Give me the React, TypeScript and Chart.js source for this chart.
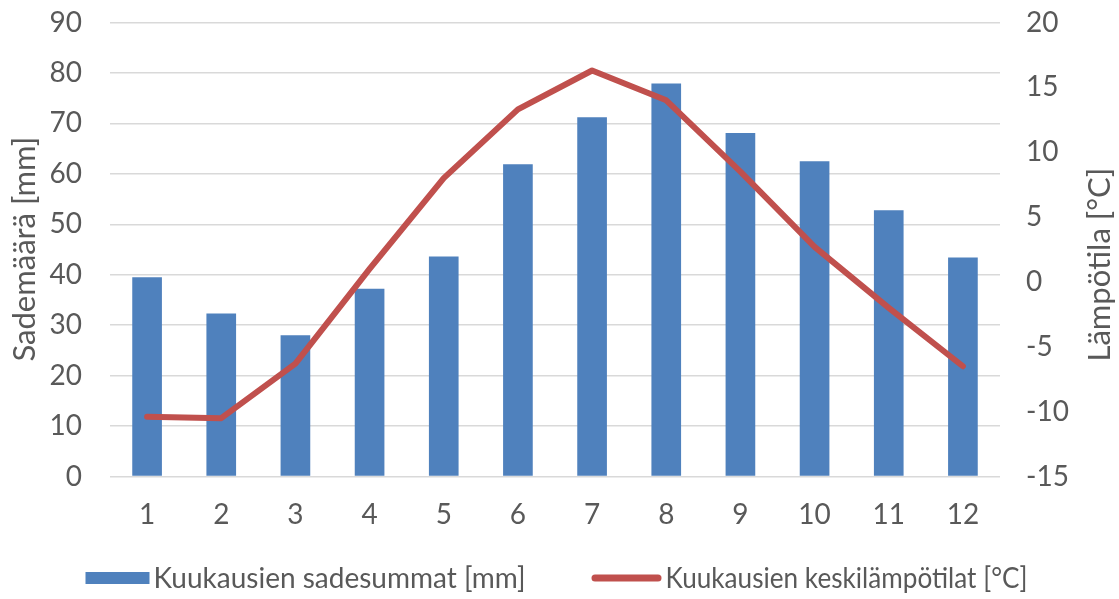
import React, { useEffect, useRef } from 'react';
import { Chart, registerables } from 'chart.js';

Chart.register(...registerables);

const months = ['1', '2', '3', '4', '5', '6', '7', '8', '9', '10', '11', '12'];
const precipitation = [39.5, 32.3, 28.0, 37.2, 43.6, 61.9, 71.2, 77.9, 68.1, 62.5, 52.8, 43.4];
const temperature = [-10.4, -10.5, -6.3, 1.0, 8.0, 13.3, 16.3, 14.0, 8.5, 2.7, -2.0, -6.5];

const precipLabel = 'Kuukausien sadesummat [mm]';
const tempLabel = 'Kuukausien keskilämpötilat [°C]';
const leftTitle = 'Sademäärä [mm]';
const rightTitle = 'Lämpötila [°C]';

const leftMin = 0;
const leftMax = 90;
const leftStep = 10;
const rightMin = -15;
const rightMax = 20;
const rightStep = 5;

const BAR_COLOR = '#4F81BD';
const LINE_COLOR = '#C0504D';
const TEXT_COLOR = '#595959';
const GRID_COLOR = '#D9D9D9';
const FONT = 'Lato, "Open Sans", sans-serif';
const TICK_SIZE = 28;
const TITLE_SIZE = 31;
const LEGEND_SIZE = 28;
const TRANSPARENT = 'rgba(0,0,0,0)';

const titlesPlugin = {
  id: 'axisTitles',
  afterDraw(chart: any) {
    const { ctx, chartArea } = chart;
    const yL = chart.scales.y;
    const yR = chart.scales.y1;
    ctx.save();
    ctx.fillStyle = TEXT_COLOR;
    ctx.font = `${TITLE_SIZE}px ${FONT}`;
    ctx.textAlign = 'left';
    ctx.textBaseline = 'middle';
    const baseY = chartArea.bottom - 115;
    ctx.save();
    ctx.translate(yL.left + 25, baseY);
    ctx.rotate(-Math.PI / 2);
    ctx.fillText(leftTitle, 0, 0);
    ctx.restore();
    ctx.save();
    ctx.translate(yR.right - 19, baseY);
    ctx.rotate(-Math.PI / 2);
    ctx.fillText(rightTitle, 0, 0, 205);
    ctx.restore();
    ctx.restore();
  },
};

const legendPlugin = {
  id: 'customLegend',
  afterDraw(chart: any) {
    const { ctx, width, height } = chart;
    ctx.save();
    ctx.font = `${LEGEND_SIZE}px ${FONT}`;
    ctx.textBaseline = 'middle';
    ctx.textAlign = 'left';
    const markerW1 = 64;
    const markerW2 = 70;
    const markGap = 4;
    const itemGap = 62;
    const w1 = 376;
    const w2 = 362;
    const total = markerW1 + markGap + w1 + itemGap + markerW2 + markGap + w2;
    let x = width / 2 - 3 - total / 2;
    const cy = height - 21;
    ctx.fillStyle = BAR_COLOR;
    ctx.fillRect(x, cy - 6, markerW1, 12);
    x += markerW1 + markGap;
    ctx.fillStyle = TEXT_COLOR;
    ctx.fillText(precipLabel, x, cy + 1, w1);
    x += w1 + itemGap;
    ctx.strokeStyle = LINE_COLOR;
    ctx.lineWidth = 7;
    ctx.lineCap = 'round';
    ctx.beginPath();
    ctx.moveTo(x + 3.5, cy);
    ctx.lineTo(x + markerW2 - 3.5, cy);
    ctx.stroke();
    x += markerW2 + markGap;
    ctx.fillStyle = TEXT_COLOR;
    ctx.fillText(tempLabel, x, cy + 1, w2);
    ctx.restore();
  },
};

export default function App() {
  const ref = useRef<HTMLCanvasElement | null>(null);

  useEffect(() => {
    document.body.style.margin = '0';
    const canvas = ref.current;
    if (!canvas) return;
    const chart = new Chart(canvas, {
      type: 'bar',
      data: {
        labels: months,
        datasets: [
          {
            type: 'bar',
            label: precipLabel,
            data: precipitation,
            backgroundColor: BAR_COLOR,
            borderWidth: 0,
            barPercentage: 0.4,
            categoryPercentage: 1,
            yAxisID: 'y',
            order: 2,
          },
          {
            type: 'line',
            label: tempLabel,
            data: temperature,
            borderColor: LINE_COLOR,
            backgroundColor: LINE_COLOR,
            borderWidth: 6,
            pointRadius: 0,
            tension: 0,
            borderCapStyle: 'round',
            borderJoinStyle: 'round',
            yAxisID: 'y1',
            order: 1,
          },
        ] as any,
      },
      options: {
        responsive: false,
        animation: false,
        maintainAspectRatio: false,
        layout: { padding: { top: 22.5, left: 0, right: 0, bottom: 62.5 } },
        plugins: {
          tooltip: { enabled: false },
          legend: { display: false },
        },
        scales: {
          x: {
            grid: { display: false, drawTicks: false },
            border: { display: false },
            ticks: {
              color: TEXT_COLOR,
              font: { family: FONT, size: TICK_SIZE },
              padding: 21.5,
              maxRotation: 0,
              autoSkip: false,
            },
            afterFit: (s: any) => {
              s.height = 60;
            },
          },
          y: {
            position: 'left',
            min: leftMin,
            max: leftMax,
            grid: {
              color: GRID_COLOR,
              lineWidth: 1.5,
              drawTicks: true,
              tickLength: 23,
              tickColor: TRANSPARENT,
            },
            border: { display: false },
            ticks: {
              stepSize: leftStep,
              color: TEXT_COLOR,
              font: { family: FONT, size: TICK_SIZE },
              padding: 5,
            },
            afterFit: (s: any) => {
              s.width = 110;
            },
          },
          y1: {
            position: 'right',
            min: rightMin,
            max: rightMax,
            grid: {
              display: true,
              drawOnChartArea: false,
              drawTicks: true,
              tickLength: 21,
              tickColor: TRANSPARENT,
            },
            border: { display: false },
            ticks: {
              stepSize: rightStep,
              color: TEXT_COLOR,
              font: { family: FONT, size: TICK_SIZE },
              padding: 5,
            },
            afterFit: (s: any) => {
              s.width = 119;
            },
          },
        },
      } as any,
      plugins: [titlesPlugin, legendPlugin],
    });
    return () => chart.destroy();
  }, []);

  return <canvas ref={ref} width={1119} height={599} style={{ display: 'block' }} />;
}
